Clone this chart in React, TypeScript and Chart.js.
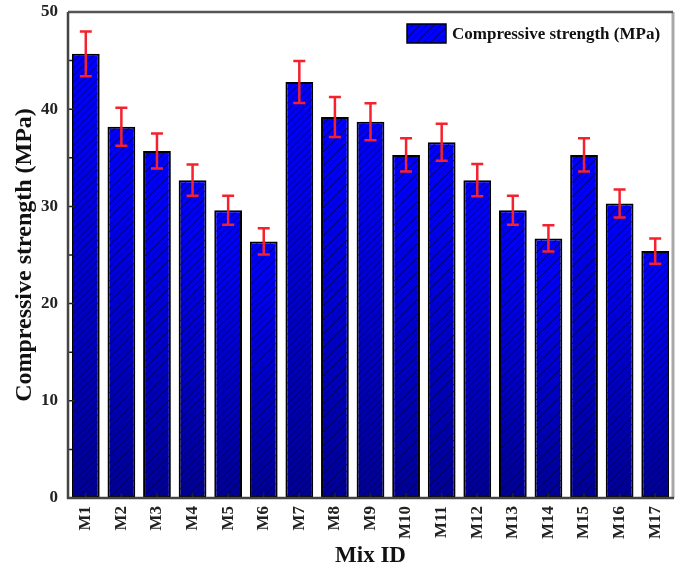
import React, { useEffect, useRef } from "react";
import { Chart, registerables } from "chart.js";

Chart.register(...registerables);

const categories = ["M1", "M2", "M3", "M4", "M5", "M6", "M7", "M8", "M9", "M10", "M11", "M12", "M13", "M14", "M15", "M16", "M17"];
const strengthValues = [45.7, 38.2, 35.7, 32.7, 29.6, 26.4, 42.8, 39.2, 38.7, 35.3, 36.6, 32.7, 29.6, 26.7, 35.3, 30.3, 25.4];
const strengthErrors = [2.3, 1.95, 1.8, 1.6, 1.5, 1.35, 2.15, 2.05, 1.9, 1.7, 1.9, 1.65, 1.5, 1.35, 1.7, 1.45, 1.3];
const yTicks = [0, 10, 20, 30, 40, 50];
const seriesLabel = "Compressive strength (MPa)";
const yTitle = "Compressive strength (MPa)";
const xTitle = "Mix ID";

const FONT = "'Liberation Serif', 'Times New Roman', serif";

function hatchRect(ctx: CanvasRenderingContext2D, x: number, y: number, w: number, h: number, spacing: number, color: string) {
  ctx.save();
  ctx.beginPath();
  ctx.rect(x, y, w, h);
  ctx.clip();
  ctx.strokeStyle = color;
  ctx.lineWidth = 1;
  ctx.beginPath();
  for (let k = -h - spacing; k < w + h + spacing; k += spacing) {
    ctx.moveTo(x + k, y + h);
    ctx.lineTo(x + k + h, y);
  }
  ctx.stroke();
  ctx.restore();
}

const decorPlugin = {
  id: "decor",
  afterDatasetsDraw(chart: any) {
    const ctx: CanvasRenderingContext2D = chart.ctx;
    const meta = chart.getDatasetMeta(0);
    const yScale = chart.scales.y;
    meta.data.forEach((bar: any) => {
      const { x, y, base, width } = bar.getProps(["x", "y", "base", "width"], true);
      const left = x - width / 2 + 1;
      const top = Math.min(y, base) + 1;
      hatchRect(ctx, left, top, width - 2, Math.abs(base - y) - 1, 7, "rgba(0,0,70,0.7)");
    });
    ctx.save();
    ctx.strokeStyle = "#f5222d";
    ctx.lineWidth = 2.5;
    meta.data.forEach((bar: any, i: number) => {
      const v = strengthValues[i];
      const e = strengthErrors[i];
      const yt = yScale.getPixelForValue(v + e);
      const yb = yScale.getPixelForValue(v - e);
      const x = bar.x;
      const cap = 6;
      ctx.beginPath();
      ctx.moveTo(x, yt);
      ctx.lineTo(x, yb);
      ctx.moveTo(x - cap, yt);
      ctx.lineTo(x + cap, yt);
      ctx.moveTo(x - cap, yb);
      ctx.lineTo(x + cap, yb);
      ctx.stroke();
    });
    ctx.restore();
  },
  afterDraw(chart: any) {
    const ctx: CanvasRenderingContext2D = chart.ctx;
    const { left, right, top, bottom } = chart.chartArea;
    const yScale = chart.scales.y;
    const meta = chart.getDatasetMeta(0);
    ctx.save();
    ctx.strokeStyle = "#222";
    ctx.lineWidth = 1.5;
    ctx.beginPath();
    for (let v = 0; v <= 50; v += 5) {
      const py = yScale.getPixelForValue(v);
      const len = v % 10 === 0 ? 7 : 4;
      ctx.moveTo(left, py);
      ctx.lineTo(left + len, py);
    }
    meta.data.forEach((bar: any) => {
      ctx.moveTo(bar.x, bottom);
      ctx.lineTo(bar.x, bottom - 5);
    });
    ctx.stroke();
    ctx.lineWidth = 3;
    ctx.strokeStyle = "#a8a8a8";
    ctx.beginPath();
    ctx.moveTo(right, top);
    ctx.lineTo(right, bottom);
    ctx.stroke();
    ctx.strokeStyle = "#555";
    ctx.lineWidth = 2.5;
    ctx.beginPath();
    ctx.moveTo(left, top);
    ctx.lineTo(right, top);
    ctx.stroke();
    ctx.strokeStyle = "#444";
    ctx.beginPath();
    ctx.moveTo(left, top);
    ctx.lineTo(left, bottom);
    ctx.lineTo(right + 1, bottom);
    ctx.stroke();
    const sx = right - 266;
    const sy = top + 12;
    const sw = 39;
    const sh = 19;
    ctx.fillStyle = "#0000ff";
    ctx.fillRect(sx, sy, sw, sh);
    hatchRect(ctx, sx, sy, sw, sh, 7, "rgba(0,0,70,0.7)");
    ctx.strokeStyle = "#000";
    ctx.lineWidth = 1.5;
    ctx.strokeRect(sx, sy, sw, sh);
    ctx.fillStyle = "#111";
    ctx.font = `bold 17px ${FONT}`;
    ctx.textBaseline = "middle";
    ctx.textAlign = "left";
    ctx.fillText(seriesLabel, sx + sw + 6, sy + sh / 2 + 1);
    ctx.restore();
  },
};

export default function App() {
  const ref = useRef<HTMLCanvasElement | null>(null);
  useEffect(() => {
    if (!ref.current) return;
    const chart = new Chart(ref.current, {
      type: "bar",
      data: {
        labels: categories,
        datasets: [
          {
            label: seriesLabel,
            data: strengthValues,
            backgroundColor: (c: any) => {
              const ch = c.chart;
              const area = ch.chartArea;
              if (!area) return "#0000ff";
              const ys = ch.scales.y;
              const v = strengthValues[c.dataIndex];
              const yTop = ys.getPixelForValue(v);
              const yBot = ys.getPixelForValue(0);
              const g = ch.ctx.createLinearGradient(0, yTop, 0, yBot);
              g.addColorStop(0, "#0000ff");
              g.addColorStop(0.25, "#0000ea");
              g.addColorStop(1, "#000094");
              return g;
            },
            borderColor: "#000",
            borderWidth: 2,
            borderSkipped: false,
            barPercentage: 0.78,
            categoryPercentage: 1,
          },
        ],
      },
      options: {
        animation: false,
        responsive: false,
        maintainAspectRatio: false,
        layout: { padding: { top: 12, right: 8, left: 0, bottom: 0 } },
        plugins: {
          legend: { display: false },
          tooltip: { enabled: false },
        },
        scales: {
          x: {
            grid: { display: false, drawTicks: false },
            border: { display: false },
            ticks: {
              autoSkip: false,
              maxRotation: 90,
              minRotation: 90,
              padding: 8,
              color: "#222",
              font: { family: FONT, size: 17, weight: "bold" },
            },
            title: {
              display: true,
              text: xTitle,
              color: "#111",
              font: { family: FONT, size: 23, weight: "bold" },
              padding: { top: 0, bottom: 0 },
            },
            afterFit: (s: any) => {
              s.height = 72;
              s.paddingLeft = 0;
              s.paddingRight = 0;
            },
          },
          y: {
            min: 0,
            max: 50,
            grid: { display: false, drawTicks: false },
            border: { display: false },
            afterBuildTicks: (s: any) => {
              s.ticks = yTicks.map((v) => ({ value: v }));
            },
            ticks: {
              padding: 10,
              color: "#222",
              font: { family: FONT, size: 17, weight: "bold" },
            },
            title: {
              display: true,
              text: yTitle,
              color: "#111",
              font: { family: FONT, size: 24, weight: "bold" },
              padding: { top: 10, bottom: 0 },
            },
            afterFit: (s: any) => {
              s.width = 68;
              s.paddingTop = 0;
              s.paddingBottom = 0;
            },
          },
        },
      },
      plugins: [decorPlugin],
    } as any);
    return () => chart.destroy();
  }, []);
  return (
    <div style={{ position: "fixed", left: 0, top: 0, width: 681, height: 570, background: "#fff" }}>
      <canvas ref={ref} width={681} height={570} style={{ width: 681, height: 570, display: "block" }} />
    </div>
  );
}
